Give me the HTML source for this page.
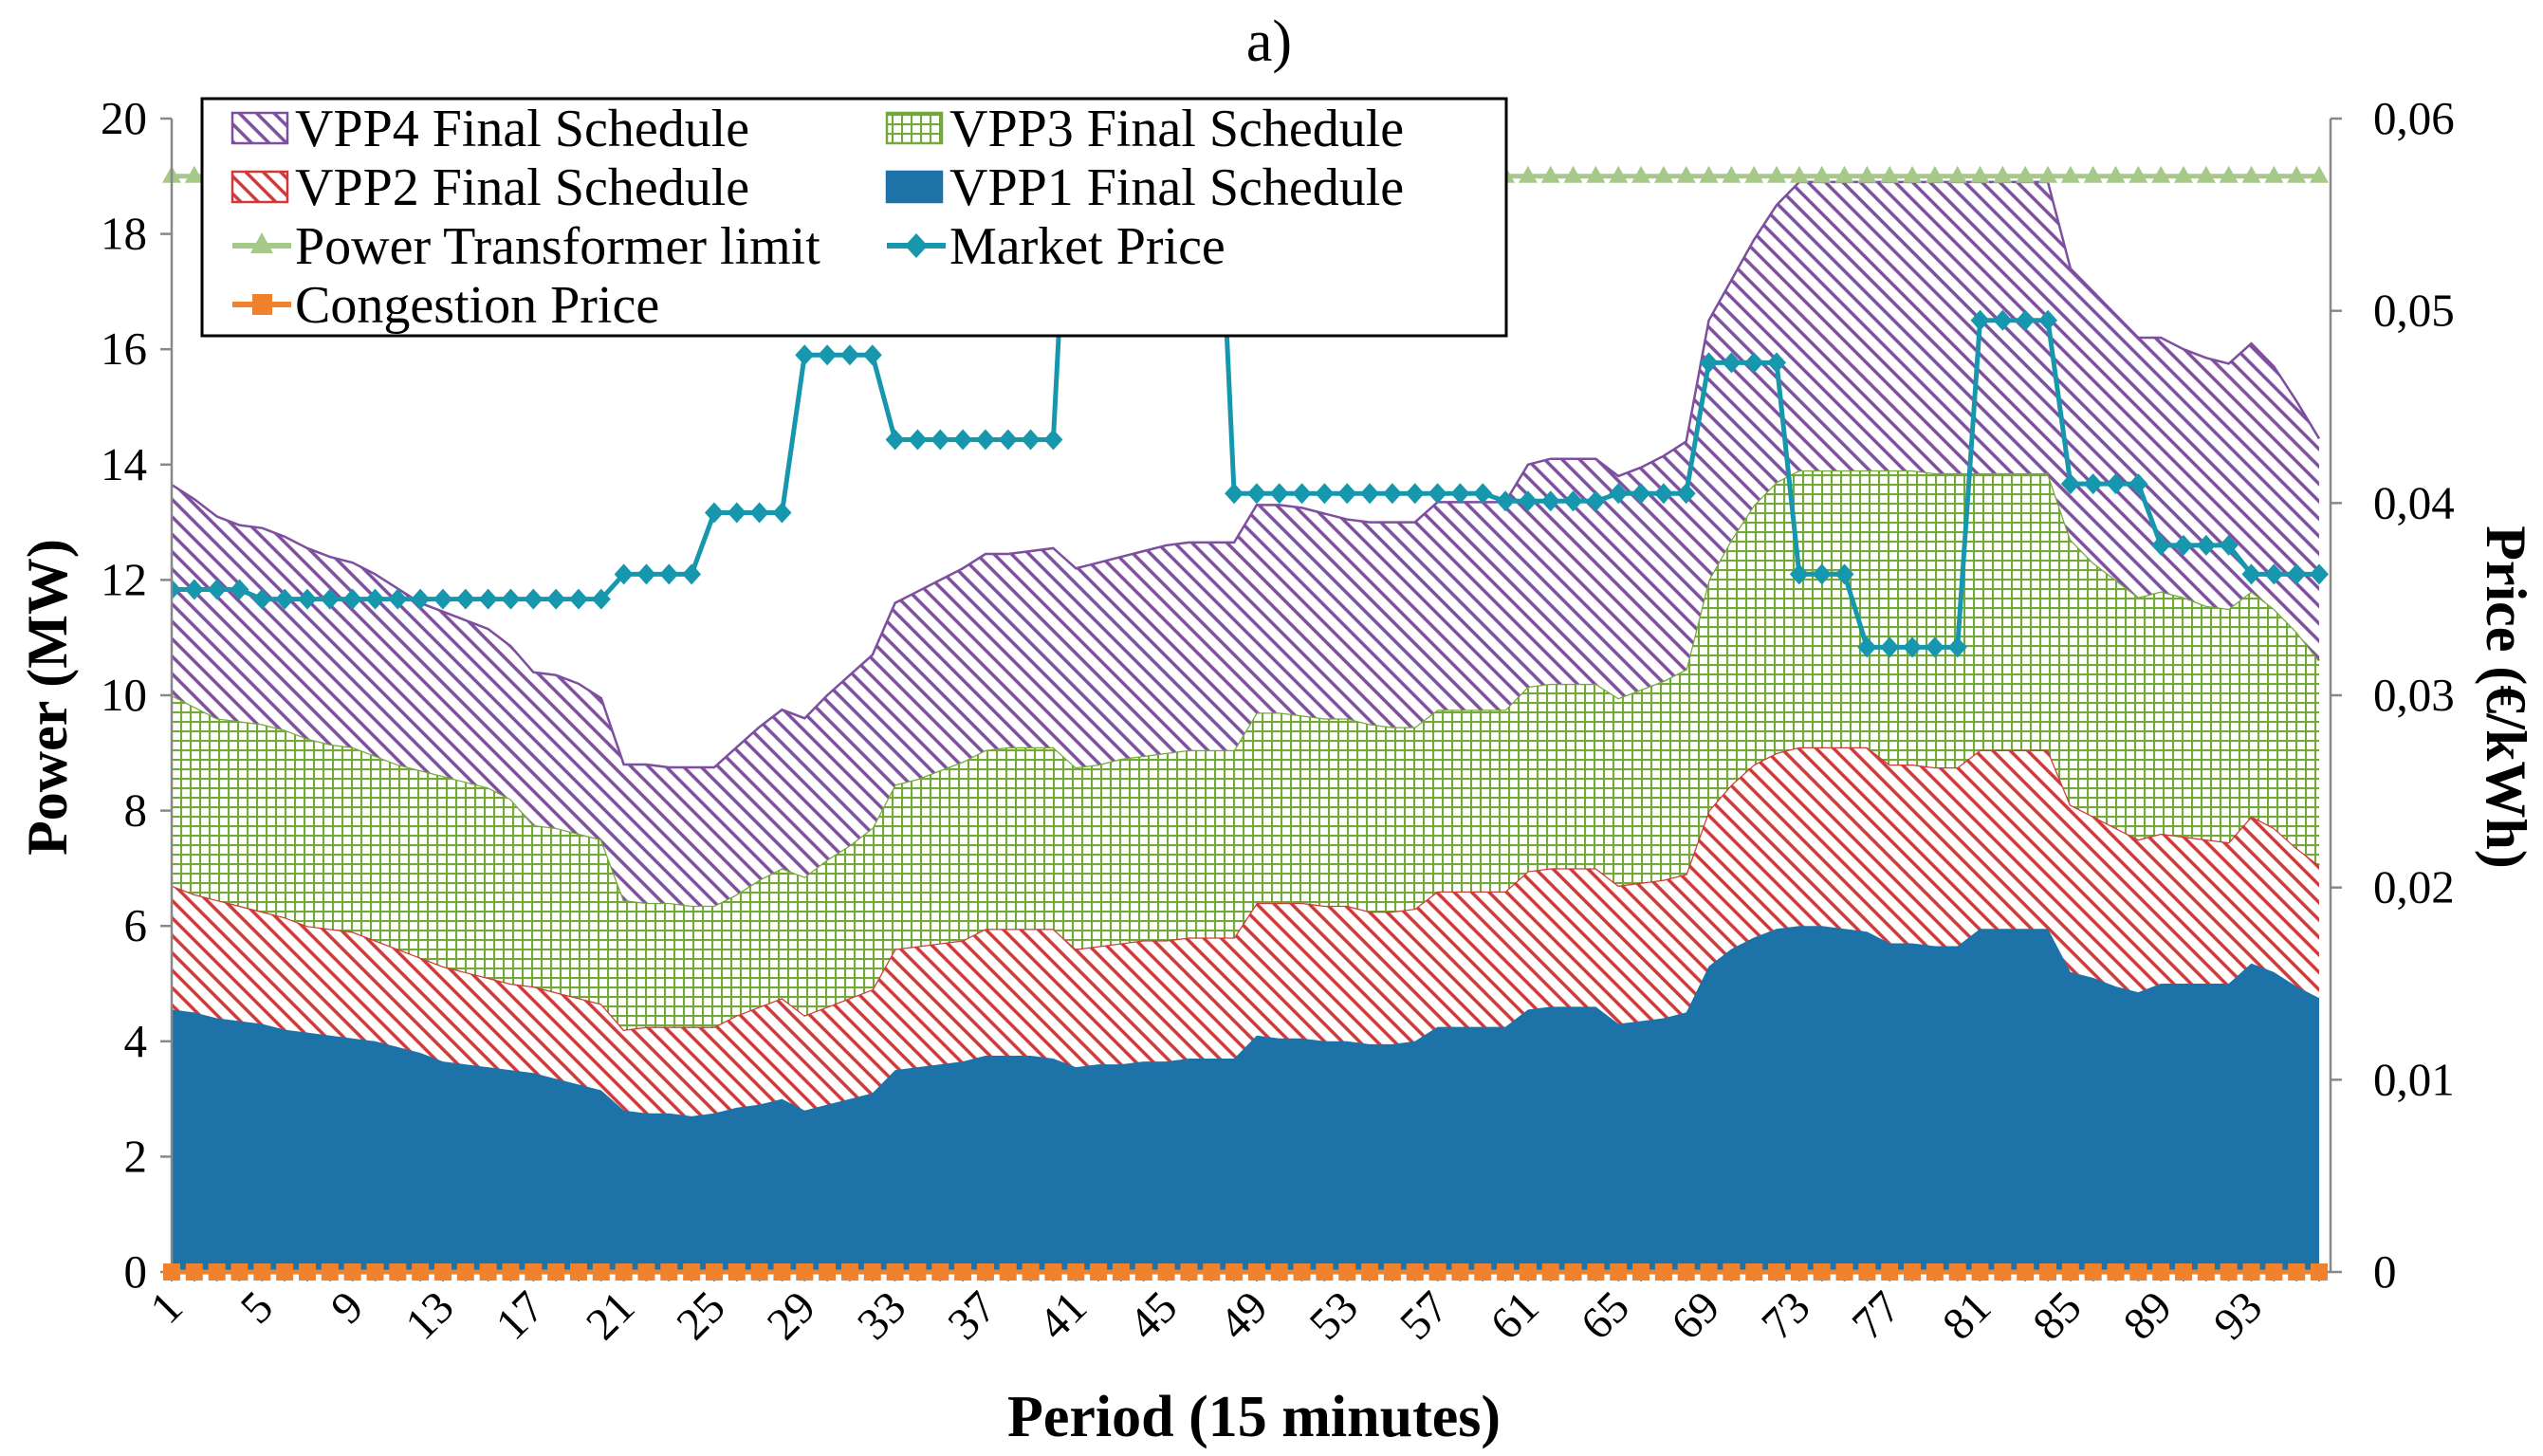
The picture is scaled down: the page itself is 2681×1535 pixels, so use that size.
<!DOCTYPE html>
<html><head><meta charset="utf-8"><style>
html,body{margin:0;padding:0;background:#fff}
svg{display:block}
text{font-family:"Liberation Serif",serif}
</style></head><body>
<svg id="chart" width="2681" height="1535" viewBox="0 0 2681 1535" xmlns="http://www.w3.org/2000/svg">
<defs>
<pattern id="hPurple" patternUnits="userSpaceOnUse" width="13" height="13" patternTransform="rotate(-45)"><rect width="13" height="13" fill="#fff"/><line x1="3" y1="0" x2="3" y2="13" stroke="#7d4f9e" stroke-width="3.5"/></pattern>
<pattern id="hRed" patternUnits="userSpaceOnUse" width="13" height="13" patternTransform="rotate(-45)"><rect width="13" height="13" fill="#fff"/><line x1="3" y1="0" x2="3" y2="13" stroke="#d0393a" stroke-width="3.5"/></pattern>
<pattern id="hGreen" patternUnits="userSpaceOnUse" width="10" height="10"><rect width="10" height="10" fill="#fff"/><path d="M0 1H10M1 0V10" stroke="#74a83a" stroke-width="2.2"/></pattern>
<clipPath id="plotClip"><rect x="181" y="125" width="2276" height="1220"/></clipPath>
</defs>
<text x="1338" y="64" font-size="62" text-anchor="middle">a)</text>
<g id="plot"></g>
</svg>
<script>
const periods = Array.from({length:96},(_,i)=>i+1);
const vpp1 = [4.55,4.5,4.4,4.35,4.3,4.2,4.15,4.1,4.05,4.0,3.9,3.8,3.65,3.6,3.55,3.5,3.45,3.35,3.25,3.15,2.8,2.75,2.75,2.7,2.75,2.85,2.9,3.0,2.8,2.9,3.0,3.1,3.5,3.55,3.6,3.65,3.75,3.75,3.75,3.7,3.55,3.6,3.6,3.65,3.65,3.7,3.7,3.7,4.1,4.05,4.05,4.0,4.0,3.95,3.95,4.0,4.25,4.25,4.25,4.25,4.55,4.6,4.6,4.6,4.3,4.35,4.4,4.5,5.3,5.6,5.8,5.95,6.0,6.0,5.95,5.9,5.7,5.7,5.65,5.65,5.95,5.95,5.95,5.95,5.2,5.1,4.95,4.85,5.0,5.0,5.0,5.0,5.35,5.2,4.95,4.75];
const vpp2Top = [6.7,6.55,6.45,6.35,6.25,6.15,6.0,5.95,5.9,5.75,5.6,5.45,5.3,5.2,5.1,5.0,4.95,4.85,4.75,4.65,4.2,4.25,4.25,4.25,4.25,4.45,4.6,4.75,4.45,4.6,4.75,4.9,5.6,5.65,5.7,5.75,5.95,5.95,5.95,5.95,5.6,5.65,5.7,5.75,5.75,5.8,5.8,5.8,6.4,6.4,6.4,6.35,6.35,6.25,6.25,6.3,6.6,6.6,6.6,6.6,6.95,7.0,7.0,7.0,6.7,6.75,6.8,6.9,8.0,8.45,8.8,9.0,9.1,9.1,9.1,9.1,8.8,8.8,8.75,8.75,9.05,9.05,9.05,9.05,8.1,7.9,7.7,7.5,7.6,7.55,7.5,7.45,7.9,7.7,7.35,7.05];
const vpp3Top = [10.0,9.8,9.6,9.55,9.5,9.4,9.25,9.15,9.1,8.95,8.8,8.7,8.6,8.5,8.4,8.2,7.75,7.7,7.6,7.5,6.45,6.4,6.4,6.35,6.35,6.55,6.8,7.0,6.85,7.15,7.4,7.7,8.45,8.55,8.7,8.85,9.05,9.1,9.1,9.1,8.75,8.8,8.9,8.95,9.0,9.05,9.05,9.05,9.7,9.7,9.65,9.6,9.6,9.5,9.45,9.45,9.75,9.75,9.75,9.75,10.15,10.2,10.2,10.2,9.95,10.1,10.25,10.45,12.0,12.7,13.3,13.7,13.9,13.9,13.9,13.9,13.9,13.9,13.85,13.85,13.85,13.85,13.85,13.85,12.7,12.3,12.0,11.7,11.8,11.7,11.55,11.5,11.8,11.5,11.1,10.6];
const vpp4Top = [13.65,13.4,13.1,12.95,12.9,12.75,12.55,12.4,12.3,12.1,11.85,11.6,11.45,11.3,11.15,10.85,10.4,10.35,10.2,9.95,8.8,8.8,8.75,8.75,8.75,9.1,9.45,9.75,9.6,10.0,10.35,10.7,11.6,11.8,12.0,12.2,12.45,12.45,12.5,12.55,12.2,12.3,12.4,12.5,12.6,12.65,12.65,12.65,13.3,13.3,13.25,13.15,13.05,13.0,13.0,13.0,13.35,13.35,13.35,13.35,14.0,14.1,14.1,14.1,13.8,13.95,14.15,14.4,16.5,17.2,17.9,18.5,18.9,18.9,18.9,18.9,18.9,18.9,18.9,18.9,18.9,18.9,18.9,18.9,17.4,17.0,16.6,16.2,16.2,16.0,15.85,15.75,16.1,15.7,15.1,14.45];
const transformerLimit = Array(96).fill(19);
const congestionPrice = Array(96).fill(0);
const marketPrice = [0.0355,0.0355,0.0355,0.0355,0.035,0.035,0.035,0.035,0.035,0.035,0.035,0.035,0.035,0.035,0.035,0.035,0.035,0.035,0.035,0.035,0.0363,0.0363,0.0363,0.0363,0.0395,0.0395,0.0395,0.0395,0.0477,0.0477,0.0477,0.0477,0.0433,0.0433,0.0433,0.0433,0.0433,0.0433,0.0433,0.0433,0.066,0.066,0.066,0.066,0.066,0.066,0.066,0.0405,0.0405,0.0405,0.0405,0.0405,0.0405,0.0405,0.0405,0.0405,0.0405,0.0405,0.0405,0.0401,0.0401,0.0401,0.0401,0.0401,0.0405,0.0405,0.0405,0.0405,0.0473,0.0473,0.0473,0.0473,0.0363,0.0363,0.0363,0.0325,0.0325,0.0325,0.0325,0.0325,0.0495,0.0495,0.0495,0.0495,0.041,0.041,0.041,0.041,0.0378,0.0378,0.0378,0.0378,0.0363,0.0363,0.0363,0.0363];
const leftTicks = [0,2,4,6,8,10,12,14,16,18,20];
const rightTicks = [0,0.01,0.02,0.03,0.04,0.05,0.06];
const rightTickLabels = ["0","0,01","0,02","0,03","0,04","0,05","0,06"];
const xTickLabels = [1,5,9,13,17,21,25,29,33,37,41,45,49,53,57,61,65,69,73,77,81,85,89,93];

const NS="http://www.w3.org/2000/svg";
const X0=181,X1=2445,Y0=1341,YT=125,AXR=2457;
const xs=p=>X0+(p-1)*(X1-X0)/95;
const yl=v=>Y0-(v/20)*(Y0-YT);
const yr=v=>Y0-(v/0.06)*(Y0-YT);
const g=document.getElementById('plot');
function mk(tag,attrs,parent){const e=document.createElementNS(NS,tag);for(const k in attrs)e.setAttribute(k,attrs[k]);(parent||g).appendChild(e);return e;}

function area(bottom,top,fill,stroke,name){
  let d='M'+periods.map((p,i)=>xs(p)+','+yl(top[i])).join('L');
  for(let i=95;i>=0;i--)d+='L'+xs(periods[i])+','+yl(bottom?bottom[i]:0);
  const e=mk('path',{d:d+'Z',fill:fill});
  
  
  const l=mk('path',{d:'M'+periods.map((p,i)=>xs(p)+','+yl(top[i])).join('L'),fill:'none',stroke:stroke,'stroke-width':2.5});
  
  
}
area(null,vpp1,'#1d72a8','#1d72a8','vpp1-area');
area(vpp1,vpp2Top,'url(#hRed)','#d0393a','vpp2-area');
area(vpp2Top,vpp3Top,'url(#hGreen)','#74a83a','vpp3-area');
area(vpp3Top,vpp4Top,'url(#hPurple)','#7d4f9e','vpp4-area');

const tl=mk('polyline',{points:periods.map((p,i)=>xs(p)+','+yl(transformerLimit[i])).join(' '),fill:'none',stroke:'#a6c98a','stroke-width':5});


periods.forEach((p,i)=>{const x=xs(p),y=yl(transformerLimit[i]);
  const m=mk('polygon',{points:`${x},${y-11} ${x-10},${y+7} ${x+10},${y+7}`,fill:'#a6c98a'});
  
  });

const cg=mk('g',{'clip-path':'url(#plotClip)'});
const mp=mk('polyline',{points:periods.map((p,i)=>xs(p)+','+yr(marketPrice[i])).join(' '),fill:'none',stroke:'#1797ad','stroke-width':5},cg);


periods.forEach((p,i)=>{const x=xs(p),y=yr(marketPrice[i]);
  const m=mk('polygon',{points:`${x},${y-11} ${x+10},${y} ${x},${y+11} ${x-10},${y}`,fill:'#1797ad'},cg);
  
  });

const la=mk('line',{x1:X0,y1:YT,x2:X0,y2:Y0,stroke:'#888','stroke-width':2.5});


const ra=mk('line',{x1:AXR,y1:YT,x2:AXR,y2:Y0,stroke:'#888','stroke-width':2.5});


const xa=mk('line',{x1:X0,y1:Y0,x2:AXR,y2:Y0,stroke:'#888','stroke-width':2.5});


leftTicks.forEach(v=>{const y=yl(v);
  mk('line',{x1:X0-12,y1:y,x2:X0,y2:y,stroke:'#888','stroke-width':2.5});
  const t=mk('text',{x:X0-26,y:y+16,'font-size':49,'text-anchor':'end'});t.textContent=v;
  
  });
rightTicks.forEach((v,i)=>{const y=yr(v);
  mk('line',{x1:AXR,y1:y,x2:AXR+12,y2:y,stroke:'#888','stroke-width':2.5});
  const t=mk('text',{x:AXR+45,y:y+16,'font-size':49});t.textContent=rightTickLabels[i];
  
  });
periods.forEach(p=>mk('line',{x1:xs(p),y1:Y0,x2:xs(p),y2:Y0+10,stroke:'#888','stroke-width':2}));
xTickLabels.forEach(p=>{const x=xs(p)+14,y=Y0+40;
  const t=mk('text',{x:x,y:y,'font-size':48,'text-anchor':'end',transform:`rotate(-45 ${x} ${y})`});t.textContent=p;
  
  });

periods.forEach((p,i)=>{const x=xs(p),y=yr(congestionPrice[i]);
  const m=mk('rect',{x:x-9,y:y-9,width:18,height:18,fill:'#f0822e'});
  
  });
const cl=mk('line',{x1:xs(1),y1:yr(0),x2:xs(96),y2:yr(0),stroke:'#f0822e','stroke-width':5});



const yt=mk('text',{x:70,y:735,'font-size':60,'font-weight':'bold','text-anchor':'middle',transform:'rotate(-90 70 735)'});yt.textContent='Power (MW)';


const y2=mk('text',{x:2622,y:735,'font-size':60,'font-weight':'bold','text-anchor':'middle',transform:'rotate(90 2622 735)'});y2.textContent='Price (€/kWh)';


const xt=mk('text',{x:1322,y:1514,'font-size':62,'font-weight':'bold','text-anchor':'middle'});xt.textContent='Period (15 minutes)';



const lg=mk('g',{});


mk('rect',{x:213,y:104,width:1375,height:250,fill:'#fff',stroke:'#000','stroke-width':3},lg);
function entry(x,y,kind,color,label,name){
  const e=mk('g',{},lg);
  
  
  if(kind==='fill'){mk('rect',{x:x,y:y-16,width:58,height:32,fill:color.f,stroke:color.s,'stroke-width':2.5},e);}
  else{mk('line',{x1:x,y1:y,x2:x+62,y2:y,stroke:color.s,'stroke-width':6},e);
    if(kind==='tri')mk('polygon',{points:`${x+31},${y-14} ${x+19},${y+8} ${x+43},${y+8}`,fill:color.s},e);
    else if(kind==='sq')mk('rect',{x:x+21,y:y-11,width:21,height:22,fill:color.s},e);
    else mk('polygon',{points:`${x+31},${y-13} ${x+43},${y} ${x+31},${y+13} ${x+19},${y}`,fill:color.s},e);}
  const t=mk('text',{x:x+66,y:y+19,'font-size':56},e);t.textContent=label;
}
entry(245,135,'fill',{f:'url(#hPurple)',s:'#7d4f9e'},'VPP4 Final Schedule','legend-vpp4');
entry(245,197,'fill',{f:'url(#hRed)',s:'#d0393a'},'VPP2 Final Schedule','legend-vpp2');
entry(245,259,'tri',{s:'#a6c98a'},'Power Transformer limit','legend-transformer-limit');
entry(245,321,'sq',{s:'#f0822e'},'Congestion Price','legend-congestion-price');
entry(935,135,'fill',{f:'url(#hGreen)',s:'#74a83a'},'VPP3 Final Schedule','legend-vpp3');
entry(935,197,'fill',{f:'#1d72a8',s:'#1d72a8'},'VPP1 Final Schedule','legend-vpp1');
entry(935,259,'dia',{s:'#1797ad'},'Market Price','legend-market-price');
</script>
</body></html>
